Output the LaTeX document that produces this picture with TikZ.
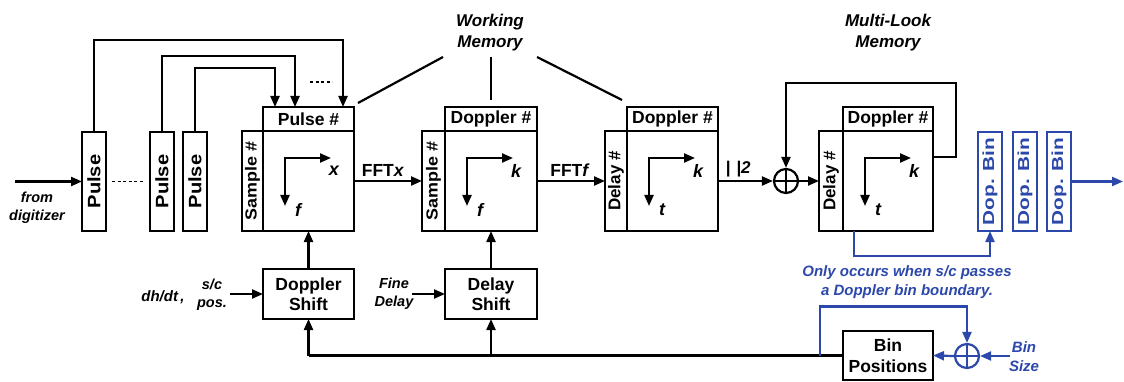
\documentclass[tikz,border=0pt]{standalone}
\usepackage{fontspec}
\setmainfont{Liberation Sans}
\newfontfamily\tallsans[FakeStretch=1.12]{Liberation Sans}
\newfontfamily\tallsansbin[FakeStretch=1.3]{Liberation Sans}
\usetikzlibrary{arrows.meta}

\definecolor{binblue}{RGB}{44,72,170}

\newcommand\lblfont{\fontsize{17.5}{20.5}\selectfont\bfseries}
\newcommand\notefont{\fontsize{14.5}{18}\selectfont\bfseries\itshape}
\newcommand\titlefont{\fontsize{17}{21}\selectfont\bfseries\itshape}
\newcommand\axisfont{\fontsize{18}{20}\selectfont\bfseries\itshape}

\tikzset{
  blk/.style={draw, line width=2.2pt, inner sep=0pt, outer sep=0pt, anchor=north west},
  ln/.style={line width=2.2pt},
  arr/.style={line width=2.2pt, -{Triangle[length=11pt,width=9pt]}},
  barr/.style={arr, binblue},
  axarr/.style={line width=2.2pt, {Triangle[length=11pt,width=9pt]}-{Triangle[length=11pt,width=9pt]}},
  lbl/.style={font=\lblfont, inner sep=0pt},
  note/.style={font=\notefont, align=center, inner sep=0pt},
  title/.style={font=\titlefont, align=center, inner sep=0pt},
  axl/.style={font=\axisfont, inner sep=0pt},
  sumnode/.style={circle, draw, line width=2.2pt, minimum size=24pt, inner sep=0pt,
    path picture={\draw[line width=2.2pt] (path picture bounding box.north) -- (path picture bounding box.south)
      (path picture bounding box.west) -- (path picture bounding box.east);}},
  dotted line/.style={line width=1.8pt, dash pattern=on 3pt off 2.5pt}
}

% f/k/t axes drawn inside a data matrix
\newcommand\axpair[3]{%
  \coordinate (#1-o) at ([shift={(22,27)}]#1.north west);
  \draw[axarr] ([shift={(46,0)}]#1-o) -- (#1-o) -- ++(0,48);
  \node[axl] (#1-h) at ([shift={(49,13)}]#1-o) {#2};
  \node[axl] (#1-v) at ([shift={(13,52)}]#1-o) {#3};
}

\begin{document}
\begin{tikzpicture}[x=1pt,y=-1pt]
\useasboundingbox[fill=white] (0,0) rectangle (1124,382);

% ---- pulse buffers ----
\foreach \nm/\xx in {p1/82, p2/150, p3/183}
  \node[blk, minimum width=24pt, minimum height=99pt] (\nm) at (\xx,132)
    {\rotatebox{90}{\tallsans\bfseries\fontsize{18}{20}\selectfont Pulse}};

% ---- matrix 1: pulse / sample ----
\node[blk, minimum width=91pt, minimum height=24pt, font=\lblfont] (h1) at (263,107) {Pulse \#};
\node[blk, minimum width=91pt, minimum height=100pt] (m1) at (263,131) {};
\node[blk, minimum width=21pt, minimum height=100pt] (s1) at (242,131)
  {\rotatebox{90}{\tallsans\bfseries\fontsize{16}{18}\selectfont Sample \#}};
\axpair{m1}{x}{f}

% ---- matrix 2: doppler / sample ----
\node[blk, minimum width=92pt, minimum height=24pt, font=\lblfont] (h2) at (445,107) {Doppler \#};
\node[blk, minimum width=92pt, minimum height=100pt] (m2) at (445,131) {};
\node[blk, minimum width=23pt, minimum height=100pt] (s2) at (422,131)
  {\rotatebox{90}{\tallsans\bfseries\fontsize{16}{18}\selectfont Sample \#}};
\axpair{m2}{k}{f}

% ---- matrix 3: doppler / delay ----
\node[blk, minimum width=91pt, minimum height=24pt, font=\lblfont] (h3) at (627,107) {Doppler \#};
\node[blk, minimum width=91pt, minimum height=100pt] (m3) at (627,131) {};
\node[blk, minimum width=22pt, minimum height=100pt] (s3) at (605,131)
  {\rotatebox{90}{\bfseries\fontsize{17}{19}\selectfont Delay \#}};
\axpair{m3}{k}{t}

% ---- matrix 4: multi-look ----
\node[blk, minimum width=90pt, minimum height=24pt, font=\lblfont] (h4) at (843,107) {Doppler \#};
\node[blk, minimum width=90pt, minimum height=100pt] (m4) at (843,131) {};
\node[blk, minimum width=24pt, minimum height=100pt] (s4) at (819,131)
  {\rotatebox{90}{\bfseries\fontsize{17}{19}\selectfont Delay \#}};
\axpair{m4}{k}{t}

% ---- output doppler bins ----
\foreach \nm/\xx in {b1/978, b2/1013, b3/1047}
  \node[blk, binblue, minimum width=24pt, minimum height=99pt] (\nm) at (\xx,132)
    {\rotatebox{90}{\tallsansbin\bfseries\fontsize{16}{18}\selectfont Dop. Bin}};

% ---- summing junctions ----
\node[sumnode] (c1) at (786,181) {};
\node[sumnode, binblue] (c2) at (967,356) {};

% ---- lower blocks ----
\node[blk, minimum width=91pt, minimum height=50pt, font=\lblfont, align=center] (ds) at (263,269) {Doppler\\Shift};
\node[blk, minimum width=92pt, minimum height=50pt, font=\lblfont, align=center] (dls) at (445,269) {Delay\\Shift};
\node[blk, minimum width=90pt, minimum height=49pt, font=\lblfont, align=center] (bp) at (843,331) {Bin\\Positions};

% ---- labels ----
\node[note] (dig) at (37,208) {from\\digitizer};
\node[title] (wm) at (490,33) {Working\\Memory};
\node[title] (mlm) at (888,33) {Multi-Look\\Memory};
\node[note, font=\fontsize{15}{18}\selectfont\bfseries\itshape] (dhdt) at (163,297) {dh/dt\,,};
\node[note] (scpos) at (212,295) {s/c\\pos.};
\node[note] (fine) at (394,294) {Fine\\Delay};
\node[note, binblue, font=\fontsize{15}{19}\selectfont\bfseries\itshape] (only) at (907,282)
  {Only occurs when s/c passes\\a Doppler bin boundary.};
\node[note, binblue, font=\fontsize{15}{19}\selectfont\bfseries\itshape] (bsize) at (1024,357) {Bin\\Size};
\node[lbl, anchor=south] (fftx) at (383,177) {FFT\textit{x}};
\node[lbl, anchor=south] (fftf) at (570,177) {FFT\textit{f}};
\node[lbl, anchor=south, font=\fontsize{17}{19}\selectfont\bfseries\itshape] (mag) at (738,177) {|\hspace{6pt}|2};

% ---- input and pulse routing ----
\coordinate (digin) at (15,181.5);
\draw[arr] (digin) -- (p1.west);
\draw[dotted line] ([xshift=6pt]p1.east) -- ([xshift=-6pt]p2.west);
\coordinate (t1) at ([xshift=80pt]h1.north west);
\coordinate (t2) at ([xshift=32pt]h1.north west);
\coordinate (t3) at ([xshift=12pt]h1.north west);
\draw[arr] (p1.north) -- ++(0,-92) -| (t1);
\draw[arr] (p2.north) -- ++(0,-76) -| (t2);
\draw[arr] (p3.north) -- ++(0,-64) -| (t3);
\draw[dotted line] ([shift={(-33,-25)}]t1) -- ([shift={(-11,-25)}]t1);

% ---- working memory pointers ----
\coordinate (wmL) at (443,57);
\coordinate (wmM) at ([yshift=50pt]h2.north);
\coordinate (wmR) at (537,57);
\draw[ln] (wmL) -- ([shift={(4,-4)}]h1.north east);
\draw[ln] (wmM) -- ([yshift=7pt]h2.north);
\draw[ln] (wmR) -- ([shift={(-5,-7)}]h3.north west);

% ---- main data path ----
\draw[arr] (m1.east) -- (s2.west);
\draw[arr] (m2.east) -- (s3.west);
\draw[arr] (m3.east) -- (c1.west);
\draw[arr] (c1.east) -- (s4.west);
\draw[arr] ([yshift=24pt]m4.east) -- ++(23,0) -- ++(0,-74) -| (c1.north);

% ---- shift controls ----
\draw[arr] (ds.north) -- (m1.south);
\draw[arr] (dls.north) -- (s2.south -| dls.north);
\coordinate (scin) at (230,294);
\coordinate (finein) at (412,294);
\draw[arr] (scin) -- (ds.west);
\draw[arr] (finein) -- (dls.west);
\draw[ln] (bp.west) -- (ds.south |- bp.west);
\draw[arr] (ds.south |- bp.west) -- (ds.south);
\draw[arr] (dls.south |- bp.west) -- (dls.south);

% ---- bin bookkeeping ----
\draw[barr] ([xshift=-34pt]m4.south) -- ++(0,25) -| (b1.south);
\draw[barr] ([xshift=-23pt]bp.west) -- ++(0,-49) -| (c2.north);
\draw[barr] (c2.west) -- (bp.east);
\coordinate (bsin) at (1010,356);
\draw[barr] (bsin) -- (c2.east);
\coordinate (binout) at (1123,181.5);
\draw[barr] (b3.east) -- (binout);
\end{tikzpicture}
\end{document}
